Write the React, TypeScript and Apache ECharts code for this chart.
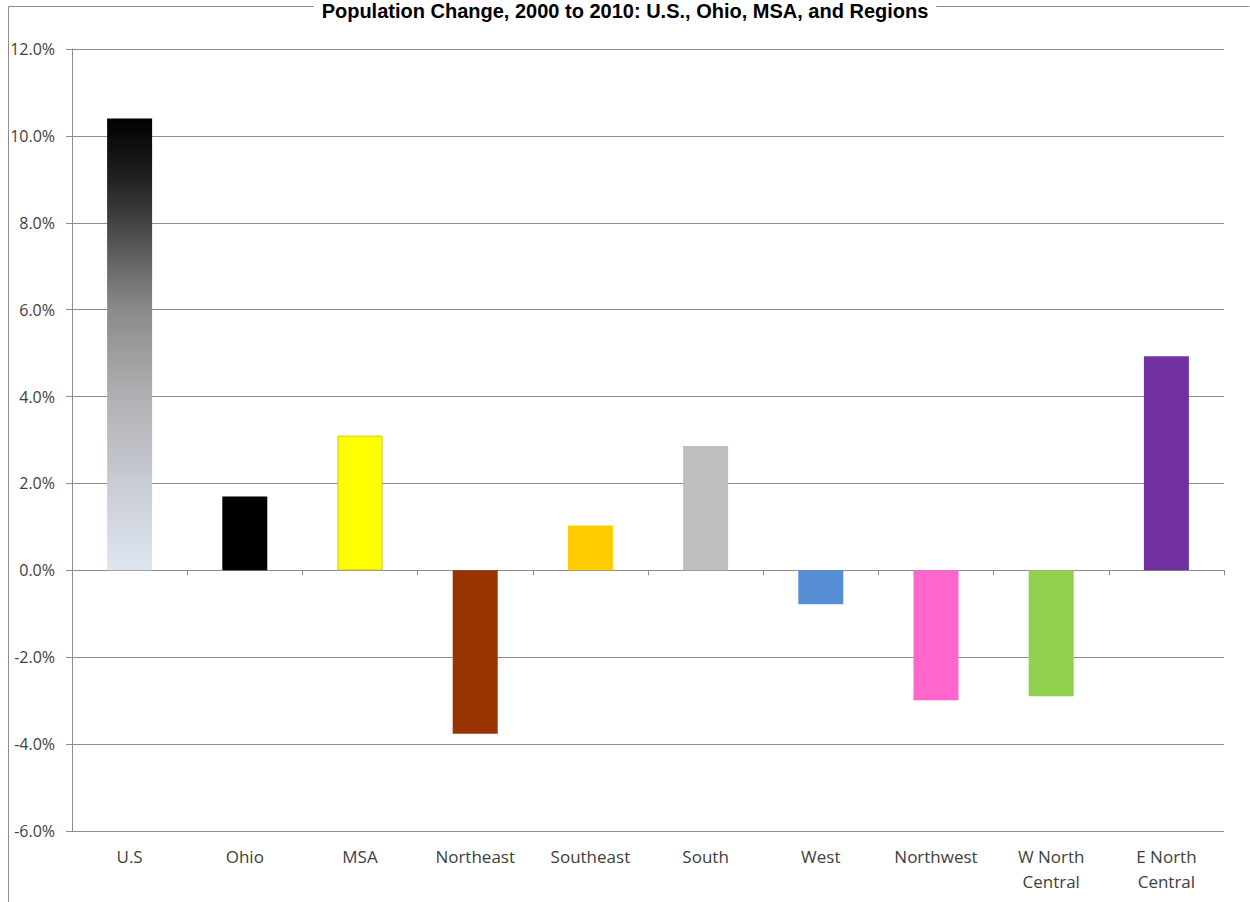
import React, { useEffect, useRef } from "react";
import * as echarts from "echarts";

// Percent change by area
const categories = [
  "U.S",
  "Ohio",
  "MSA",
  "Northeast",
  "Southeast",
  "South",
  "West",
  "Northwest",
  "W North\nCentral",
  "E North\nCentral",
];
const changePct = [10.4, 1.7, 3.1, -3.76, 1.03, 2.86, -0.78, -2.99, -2.9, 4.93];
const barColors: any[] = [
  new echarts.graphic.LinearGradient(0, 0, 0, 1, [
    { offset: 0, color: "#000000" },
    { offset: 0.15, color: "#262626" },
    { offset: 0.42, color: "#8a8a8a" },
    { offset: 0.62, color: "#b0b1b4" },
    { offset: 0.85, color: "#cdd2da" },
    { offset: 1, color: "#dfe5f0" },
  ]),
  "#000000",
  "#ffff00",
  "#993300",
  "#ffcc00",
  "#bfbfbf",
  "#558ed5",
  "#ff66cc",
  "#92d050",
  "#7030a0",
];
const yMin = -6;
const yMax = 12;
const yStep = 2;

const TITLE = "Population Change, 2000 to 2010: U.S., Ohio, MSA, and Regions";
const FONT = "'Open Sans', Lato, sans-serif";
const GRID_GREY = "#8c8c8c";

export default function App() {
  const ref = useRef<HTMLDivElement>(null);

  useEffect(() => {
    if (!ref.current) return;
    const chart = echarts.init(ref.current, undefined, { renderer: "svg" });
    chart.setOption({
      animation: false,
      backgroundColor: "#ffffff",
      // chart frame: left and top edges
      graphic: [
        {
          type: "polyline",
          silent: true,
          z: -1,
          shape: {
            points: [
              [8.5, 1000],
              [8.5, 6.5],
              [1249.5, 6.5],
            ],
          },
          style: { stroke: GRID_GREY, lineWidth: 1, fill: null },
        },
      ],
      title: {
        text: TITLE,
        left: "center",
        top: 0,
        padding: [1, 8],
        backgroundColor: "#ffffff",
        z: 10,
        textStyle: {
          fontFamily: "Liberation Sans, Arial, sans-serif",
          fontWeight: "bold",
          fontSize: 20,
          color: "#000000",
        },
      },
      grid: { left: 72, top: 49, width: 1152, height: 782 },
      xAxis: [
        {
          type: "category",
          data: categories,
          axisLine: { onZero: true, lineStyle: { color: GRID_GREY, width: 1 } },
          axisTick: { show: true, length: 5, lineStyle: { color: GRID_GREY } },
          axisLabel: { show: false },
          splitLine: { show: false },
        },
        {
          type: "category",
          data: categories,
          position: "bottom",
          axisLine: { show: false, onZero: false },
          axisTick: { show: false },
          axisLabel: {
            margin: 13,
            fontFamily: FONT,
            fontSize: 17,
            lineHeight: 25,
            color: "#404040",
            interval: 0,
          },
        },
      ],
      yAxis: {
        type: "value",
        min: yMin,
        max: yMax,
        interval: yStep,
        axisLine: { show: true, lineStyle: { color: GRID_GREY, width: 1 } },
        axisTick: { show: true, length: 6, lineStyle: { color: GRID_GREY } },
        axisLabel: {
          margin: 17,
          fontFamily: FONT,
          fontSize: 16,
          color: "#404040",
          formatter: (v: number) => `${v.toFixed(1)}%`,
        },
        splitLine: { show: true, lineStyle: { color: GRID_GREY, width: 1 } },
      },
      series: [
        {
          type: "bar",
          xAxisIndex: 0,
          barWidth: 45,
          data: changePct.map((v, i) => ({
            value: v,
            itemStyle: {
              color: barColors[i],
              borderColor: i === 2 ? "#e3c400" : undefined,
              borderWidth: i === 2 ? 1 : 0,
            },
          })),
        },
      ],
    });
    return () => chart.dispose();
  }, []);

  return (
    <div
      ref={ref}
      style={{ position: "absolute", left: 0, top: 0, width: 1250, height: 902 }}
    />
  );
}
